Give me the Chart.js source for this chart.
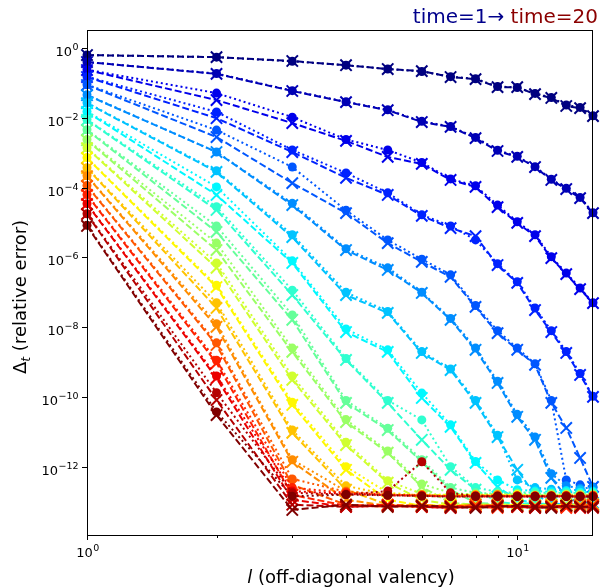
<!DOCTYPE html>
<html>
<head>
<meta charset="utf-8">
<script src="https://cdn.jsdelivr.net/npm/chart.js@4/dist/chart.umd.min.js"></script>
<style>
  html, body { margin: 0; padding: 0; background: #fff; }
  #wrap { width: 603px; height: 588px; }
</style>
</head>
<body>
<div id="wrap"><canvas id="chart" width="603" height="588"></canvas></div>
<script>
document.addEventListener("DOMContentLoaded", function () {

    'use strict';

    // off-diagonal valency l
    var valency = [1, 2, 3, 4, 5, 6, 7, 8, 9, 10, 11, 12, 13, 14, 15];

    // log10 of the relative error, one row per time step (time=1 .. time=20)
    // dashed lines with x markers
    var dashedLog10 = [
        [-0.20, -0.26, -0.37, -0.49, -0.60, -0.66, -0.83, -0.89, -1.12, -1.12, -1.32, -1.43, -1.66, -1.72, -1.95],
        [-0.40, -0.74, -1.23, -1.55, -1.78, -2.12, -2.26, -2.58, -2.95, -3.12, -3.41, -3.78, -4.04, -4.30, -4.73],
        [-0.63, -1.49, -2.15, -2.66, -3.12, -3.32, -3.78, -3.98, -4.56, -5.01, -5.39, -6.02, -6.48, -6.91, -7.31],
        [-0.83, -2.01, -2.98, -3.72, -4.21, -4.81, -5.16, -5.39, -6.22, -6.73, -7.51, -8.14, -8.74, -9.37, -10.00],
        [-1.06, -2.55, -3.87, -4.73, -5.59, -6.13, -6.56, -7.42, -8.17, -8.65, -9.08, -10.17, -10.89, -11.75, -12.58],
        [-1.35, -2.98, -4.50, -5.79, -6.36, -7.02, -7.79, -8.65, -9.60, -10.57, -11.23, -12.32, -12.87, -13.04, -13.04],
        [-1.58, -3.55, -5.42, -7.08, -7.59, -8.74, -9.23, -10.17, -11.15, -12.09, -12.81, -13.04, -13.09, -13.07, -13.09],
        [-1.83, -4.21, -6.16, -8.14, -8.71, -10.03, -10.86, -11.89, -12.58, -12.95, -13.04, -13.09, -13.07, -13.09, -13.12],
        [-2.06, -4.64, -7.08, -8.94, -10.17, -11.23, -12.09, -12.66, -13.01, -13.07, -13.04, -13.09, -13.12, -13.07, -13.09],
        [-2.35, -5.27, -7.79, -10.17, -10.95, -11.86, -12.66, -13.04, -13.07, -13.09, -13.12, -13.09, -13.07, -13.12, -13.09],
        [-2.64, -5.79, -8.71, -10.72, -11.60, -12.58, -13.04, -13.09, -13.07, -13.12, -13.09, -13.12, -13.09, -13.07, -13.12],
        [-2.87, -6.30, -9.51, -11.38, -12.46, -12.95, -13.09, -13.07, -13.12, -13.09, -13.12, -13.09, -13.12, -13.09, -13.07],
        [-3.15, -6.85, -10.23, -12.09, -12.95, -13.12, -13.09, -13.15, -13.12, -13.09, -13.15, -13.12, -13.09, -13.15, -13.12],
        [-3.44, -7.45, -11.03, -12.66, -13.09, -13.15, -13.12, -13.09, -13.15, -13.12, -13.15, -13.09, -13.15, -13.12, -13.15],
        [-3.67, -7.99, -11.86, -12.95, -13.12, -13.09, -13.15, -13.12, -13.09, -13.15, -13.12, -13.15, -13.12, -13.09, -13.15],
        [-3.95, -8.51, -12.52, -13.09, -13.15, -13.12, -13.15, -13.09, -13.15, -13.12, -13.15, -13.12, -13.15, -13.12, -13.09],
        [-4.21, -9.03, -12.81, -13.12, -13.09, -13.15, -13.12, -13.15, -13.18, -13.15, -13.12, -13.15, -13.18, -13.15, -13.12],
        [-4.47, -9.46, -12.95, -13.15, -13.12, -13.15, -13.18, -13.15, -13.12, -13.15, -13.18, -13.15, -13.12, -13.18, -13.15],
        [-4.76, -10.09, -13.09, -13.15, -13.12, -13.15, -13.18, -13.15, -13.12, -13.15, -13.18, -13.15, -13.12, -13.15, -13.18],
        [-5.10, -10.52, -13.24, -13.09, -13.15, -13.12, -13.15, -13.18, -13.15, -13.12, -13.15, -13.18, -13.12, -13.15, -13.15]
    ];

    // dotted lines with round markers
    var dottedLog10 = [
        [-0.20, -0.26, -0.38, -0.49, -0.60, -0.67, -0.82, -0.88, -1.10, -1.13, -1.30, -1.42, -1.63, -1.70, -1.94],
        [-0.40, -0.73, -1.22, -1.54, -1.77, -2.10, -2.25, -2.56, -2.93, -3.10, -3.40, -3.76, -4.02, -4.28, -4.72],
        [-0.62, -1.29, -1.98, -2.62, -2.92, -3.28, -3.75, -3.95, -4.50, -4.98, -5.35, -5.98, -6.45, -6.88, -7.30],
        [-0.82, -1.83, -2.92, -3.58, -4.15, -4.78, -5.10, -5.50, -6.18, -6.70, -7.45, -8.10, -8.70, -9.33, -9.98],
        [-1.05, -2.35, -3.41, -4.65, -5.50, -6.05, -6.50, -7.38, -8.10, -8.60, -9.05, -10.10, -12.38, -12.52, -12.58],
        [-1.34, -2.98, -4.45, -5.75, -6.30, -7.00, -7.75, -8.60, -9.55, -10.50, -11.15, -12.20, -12.55, -12.62, -12.60],
        [-1.57, -3.52, -5.35, -7.00, -7.55, -8.70, -9.20, -10.10, -11.10, -12.38, -12.60, -12.65, -12.68, -12.66, -12.70],
        [-1.82, -3.98, -6.10, -8.05, -8.65, -9.89, -10.80, -11.85, -12.38, -12.66, -12.70, -12.72, -12.70, -12.73, -12.72],
        [-2.05, -4.55, -6.94, -8.90, -10.10, -10.66, -12.00, -12.60, -12.72, -12.75, -12.73, -12.76, -12.74, -12.76, -12.75],
        [-2.34, -5.10, -7.65, -10.10, -10.90, -11.80, -12.60, -12.75, -12.78, -12.76, -12.79, -12.77, -12.78, -12.80, -12.78],
        [-2.62, -5.59, -8.60, -10.65, -11.55, -12.50, -12.75, -12.80, -12.78, -12.80, -12.82, -12.80, -12.81, -12.79, -12.82],
        [-2.86, -6.16, -9.40, -11.30, -12.40, -12.78, -12.82, -12.80, -12.83, -12.81, -12.83, -12.82, -12.80, -12.83, -12.81],
        [-3.14, -6.80, -10.15, -12.00, -12.75, -12.82, -12.80, -12.84, -12.82, -12.80, -12.84, -12.83, -12.82, -12.84, -12.83],
        [-3.43, -7.30, -10.95, -12.55, -12.80, -12.84, -12.82, -12.80, -12.85, -12.83, -12.84, -12.82, -12.85, -12.83, -12.84],
        [-3.66, -7.90, -11.80, -12.70, -12.82, -12.80, -12.85, -12.83, -12.80, -12.85, -12.83, -12.85, -12.82, -12.84, -12.85],
        [-3.94, -8.45, -12.35, -12.72, -12.80, -12.83, -12.85, -12.82, -12.86, -12.84, -12.85, -12.83, -12.86, -12.84, -12.82],
        [-4.20, -8.95, -12.60, -12.75, -12.80, -12.82, -12.85, -12.84, -12.86, -12.85, -12.84, -12.86, -12.85, -12.86, -12.85],
        [-4.46, -9.40, -12.70, -12.78, -12.82, -12.84, -12.85, -12.86, -12.84, -12.85, -12.86, -12.85, -12.84, -12.86, -12.85],
        [-4.75, -9.88, -12.75, -12.80, -12.70, -11.86, -12.75, -12.85, -12.86, -12.84, -12.86, -12.85, -12.84, -12.86, -12.85],
        [-5.08, -10.43, -12.85, -12.80, -12.82, -12.84, -12.86, -12.85, -12.84, -12.86, -12.85, -12.84, -12.86, -12.85, -12.86]
    ];

    var yTickPowers = [0, -2, -4, -6, -8, -10, -12];
    var xTickPowers = [0, 1];
    var xMinorTicks = [2, 3, 4, 5, 6, 7, 8, 9];

    var FONT = '"DejaVu Sans", "Liberation Sans", sans-serif';

    // matplotlib "jet"
    function jet(v) {
        function c(x) { return Math.max(0, Math.min(1, x)); }
        var r = c(1.5 - Math.abs(4 * v - 3));
        var g = c(1.5 - Math.abs(4 * v - 2));
        var b = c(1.5 - Math.abs(4 * v - 1));
        return 'rgb(' + Math.round(r * 255) + ',' + Math.round(g * 255) + ',' + Math.round(b * 255) + ')';
    }

    function points(row) {
        return valency.map(function (l, i) { return { x: l, y: Math.pow(10, row[i]) }; });
    }

    var datasets = [];
    var n = dashedLog10.length;
    for (var t = 0; t < n; t++) {
        var col = jet(t / (n - 1));
        datasets.push({
            data: points(dottedLog10[t]),
            borderColor: col,
            backgroundColor: col,
            borderWidth: 2,
            borderDash: [2, 3],
            pointStyle: 'circle',
            pointRadius: 4.5,
            pointBorderWidth: 0,
            pointBackgroundColor: col,
            tension: 0,
            fill: false,
            clip: false,
            order: -(2 * t)
        });
        datasets.push({
            data: points(dashedLog10[t]),
            borderColor: col,
            backgroundColor: col,
            borderWidth: 2,
            borderDash: [7, 3],
            pointStyle: 'crossRot',
            pointRadius: 8,
            pointBorderWidth: 2,
            pointBorderColor: col,
            tension: 0,
            fill: false,
            clip: false,
            order: -(2 * t + 1)
        });
    }

    var SUP = { '-': '\u2212' };
    function drawPow(ctx, exp, x, baseline, align) {
        var e = String(exp).split('').map(function (ch) { return SUP[ch] || ch; }).join('');
        ctx.font = '13px ' + FONT;
        var wb = ctx.measureText('10').width;
        ctx.font = '9.5px ' + FONT;
        var we = ctx.measureText(e).width;
        var total = wb + we;
        var x0 = align === 'right' ? x - total : x - total / 2;
        ctx.textAlign = 'left';
        ctx.textBaseline = 'alphabetic';
        ctx.font = '13px ' + FONT;
        ctx.fillText('10', x0, baseline);
        ctx.font = '9.5px ' + FONT;
        ctx.fillText(e, x0 + wb + 0.5, baseline - 6);
    }

    var decor = {
        id: 'decor',
        afterDraw: function (chart) {
            var ctx = chart.ctx;
            var a = chart.chartArea;
            var xs = chart.scales.x, ys = chart.scales.y;
            ctx.save();
            ctx.strokeStyle = '#000';
            ctx.fillStyle = '#000';
            ctx.lineWidth = 1;
            ctx.setLineDash([]);

            // frame
            ctx.strokeRect(Math.round(a.left) + 0.5, Math.round(a.top) + 0.5,
                Math.round(a.right - a.left) - 1, Math.round(a.bottom - a.top));

            // y ticks
            yTickPowers.forEach(function (p) {
                var y = Math.round(ys.getPixelForValue(Math.pow(10, p))) + 0.5;
                ctx.beginPath();
                ctx.moveTo(a.left - 5, y);
                ctx.lineTo(a.left, y);
                ctx.stroke();
                drawPow(ctx, p, a.left - 9, y + 7, 'right');
            });

            // x ticks
            xTickPowers.forEach(function (p) {
                var x = Math.round(xs.getPixelForValue(Math.pow(10, p))) + 0.5;
                ctx.beginPath();
                ctx.moveTo(x, a.bottom);
                ctx.lineTo(x, a.bottom + 5);
                ctx.stroke();
                drawPow(ctx, p, x, a.bottom + 22, 'center');
            });
            xMinorTicks.forEach(function (v) {
                var x = Math.round(xs.getPixelForValue(v)) + 0.5;
                ctx.beginPath();
                ctx.moveTo(x, a.bottom);
                ctx.lineTo(x, a.bottom + 3);
                ctx.stroke();
            });

            // x title
            ctx.font = 'italic 18px ' + FONT;
            var wl = ctx.measureText('l').width;
            ctx.font = '18px ' + FONT;
            var rest = ' (off-diagonal valency)';
            var wr = ctx.measureText(rest).width;
            var cx = 351;
            var x0 = cx - (wl + wr) / 2;
            ctx.textAlign = 'left';
            ctx.textBaseline = 'alphabetic';
            ctx.font = 'italic 18px ' + FONT;
            ctx.fillText('l', x0, 583);
            ctx.font = '18px ' + FONT;
            ctx.fillText(rest, x0 + wl, 583);

            // y title
            ctx.save();
            ctx.translate(26, 297);
            ctx.rotate(-Math.PI / 2);
            ctx.font = '18px ' + FONT;
            var wd = ctx.measureText('\u0394').width;
            var rest2 = ' (relative error)';
            var wr2 = ctx.measureText(rest2).width;
            ctx.font = 'italic 12.5px ' + FONT;
            var wt = ctx.measureText('t').width;
            var s0 = -(wd + wt + wr2) / 2;
            ctx.font = '18px ' + FONT;
            ctx.fillText('\u0394', s0, 0);
            ctx.font = 'italic 12.5px ' + FONT;
            ctx.fillText('t', s0 + wd, 4);
            ctx.font = '18px ' + FONT;
            ctx.fillText(rest2, s0 + wd + wt, 0);
            ctx.restore();

            // header
            ctx.font = '20px ' + FONT;
            ctx.textAlign = 'right';
            ctx.fillStyle = '#8b0000';
            ctx.fillText('time=20', 598, 23);
            var w20 = ctx.measureText('time=20').width;
            ctx.fillStyle = '#00008b';
            ctx.fillText('time=1\u2192 ', 598 - w20, 23);

            ctx.restore();
        }
    };

    new Chart(document.getElementById('chart'), {
        type: 'line',
        data: { datasets: datasets },
        options: {
            responsive: false,
            animation: false,
            devicePixelRatio: 1,
            events: [],
            layout: { padding: { left: 0, top: 30, right: 7, bottom: 0 } },
            plugins: { legend: { display: false }, tooltip: { enabled: false } },
            scales: {
                x: {
                    type: 'logarithmic',
                    min: 1,
                    max: 15,
                    grid: { display: false },
                    border: { display: false },
                    ticks: { display: false },
                    afterFit: function (s) { s.height = 53; }
                },
                y: {
                    type: 'logarithmic',
                    min: 1.1e-14,
                    max: 3.3,
                    grid: { display: false },
                    border: { display: false },
                    ticks: { display: false },
                    afterFit: function (s) { s.width = 87; }
                }
            }
        },
        plugins: [decor]
    });

});
</script>
</body>
</html>
